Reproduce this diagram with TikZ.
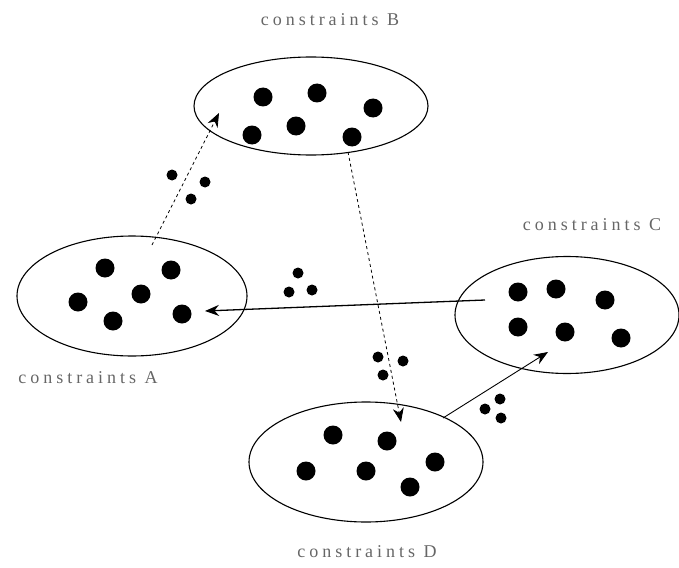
\documentclass[tikz,border=0pt]{standalone}
\usepackage{fontspec}
\setmainfont{Liberation Serif}
\usetikzlibrary{shapes.geometric,arrows.meta}
\tikzset{
  set/.style={draw=black,line width=1.1pt,ellipse,inner sep=0pt},
  bigdot/.style={circle,fill=black,inner sep=0pt,minimum size=19pt},
  smalldot/.style={circle,fill=black,inner sep=0pt,minimum size=11pt},
  lab/.style={text=black!60,font=\fontsize{18pt}{20pt}\selectfont\addfontfeature{LetterSpace=22}},
  tip/.style={-{Stealth[length=14pt,width=11pt]}},
}
\begin{document}
\begin{tikzpicture}[x=1pt,y=-1pt]
\useasboundingbox (0,0) rectangle (679,567);
% sets
\node[set,minimum width=234pt,minimum height=98pt] (B) at (311,106) {};
\node[set,minimum width=230pt,minimum height=120pt] (A) at (132,296) {};
\node[set,minimum width=224pt,minimum height=117pt] (C) at (567,315) {};
\node[set,minimum width=234pt,minimum height=120pt] (D) at (366,462) {};
% labels
\node[lab] (labB) at (330,20) {constraints B};
\node[lab] (labA) at (88,378) {constraints A};
\node[lab] (labC) at (592,225) {constraints C};
\node[lab] (labD) at (367,552) {constraints D};
% dots B
\node[bigdot] (b1) at (263,97) {};
\node[bigdot] (b2) at (317,93) {};
\node[bigdot] (b3) at (373,108) {};
\node[bigdot] (b4) at (252,135) {};
\node[bigdot] (b5) at (296,126) {};
\node[bigdot] (b6) at (352,137) {};
% dots A
\node[bigdot] (a1) at (105,268) {};
\node[bigdot] (a2) at (171,270) {};
\node[bigdot] (a3) at (78,302) {};
\node[bigdot] (a4) at (141,294) {};
\node[bigdot] (a5) at (113,321) {};
\node[bigdot] (a6) at (182,314) {};
% dots C
\node[bigdot] (c1) at (518,292) {};
\node[bigdot] (c2) at (556,289) {};
\node[bigdot] (c3) at (605,300) {};
\node[bigdot] (c4) at (518,327) {};
\node[bigdot] (c5) at (565,332) {};
\node[bigdot] (c6) at (621,338) {};
% dots D
\node[bigdot] (d1) at (333,435) {};
\node[bigdot] (d2) at (387,441) {};
\node[bigdot] (d3) at (435,462) {};
\node[bigdot] (d4) at (306,471) {};
\node[bigdot] (d5) at (366,471) {};
\node[bigdot] (d6) at (410,487) {};
% small dots
\node[smalldot] (s1) at (172,175) {};
\node[smalldot] (s2) at (205,182) {};
\node[smalldot] (s3) at (191,199) {};
\node[smalldot] (s4) at (298,273) {};
\node[smalldot] (s5) at (289,292) {};
\node[smalldot] (s6) at (312,290) {};
\node[smalldot] (s7) at (378,357) {};
\node[smalldot] (s8) at (403,361) {};
\node[smalldot] (s9) at (383,375) {};
\node[smalldot] (s10) at (500,399) {};
\node[smalldot] (s11) at (485,409) {};
\node[smalldot] (s12) at (501,418) {};
% connector end points
\coordinate (ab0) at (152,245);
\coordinate (ab1) at (219,113);
\coordinate (ca0) at (485,300);
\coordinate (ca1) at (205,311);
\coordinate (bd0) at (348,152);
\coordinate (bd1) at (401,422);
\coordinate (dc0) at (443,418);
\coordinate (dc1) at (548,352);
% connectors
\draw[tip,dashed,line width=0.8pt] (ab0) -- (ab1);
\draw[tip,line width=1.3pt] (ca0) -- (ca1);
\draw[tip,dashed,line width=0.8pt] (bd0) -- (bd1);
\draw[tip,line width=0.9pt] (dc0) -- (dc1);
\end{tikzpicture}
\end{document}
